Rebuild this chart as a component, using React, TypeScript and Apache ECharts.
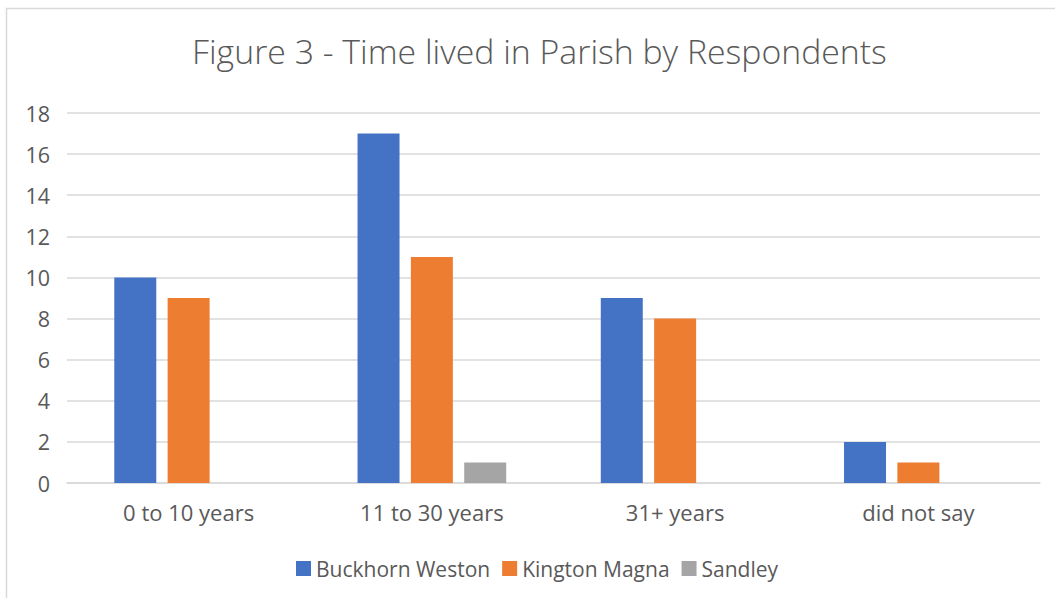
import React, { useEffect, useRef } from "react";
import * as echarts from "echarts";

const categories = ["0 to 10 years", "11 to 30 years", "31+ years", "did not say"];
const buckhornWeston = [10, 17, 9, 2];
const kingtonMagna = [9, 11, 8, 1];
const sandley = [0, 1, 0, 0];
const seriesNames = ["Buckhorn Weston", "Kington Magna", "Sandley"];
const colors = ["#4472C4", "#ED7D31", "#A5A5A5"];

const FONT = "Open Sans";
const TEXT = "#595959";

export default function App() {
  const ref = useRef<HTMLDivElement>(null);
  useEffect(() => {
    document.body.style.margin = "0";
    const chart = echarts.init(ref.current!, undefined, { renderer: "svg" });
    const data = [buckhornWeston, kingtonMagna, sandley];
    chart.setOption({
      animation: false,
      backgroundColor: "#ffffff",
      textStyle: { fontFamily: FONT },
      title: {
        text: "Figure 3 - Time lived in Parish by Respondents",
        left: 187,
        top: 29,
        textStyle: { fontFamily: FONT, fontSize: 33.8, fontWeight: 300, color: TEXT },
      },
      graphic: [
        {
          type: "rect",
          shape: { x: 6.5, y: 8.5, width: 1100, height: 700 },
          style: { fill: "none", stroke: "#D9D9D9", lineWidth: 1.5 },
          silent: true,
        },
      ],
      legend: {
        data: seriesNames,
        bottom: 14,
        left: 291,
        itemWidth: 15,
        itemHeight: 15,
        itemGap: 12,
        icon: "rect",
        textStyle: { fontFamily: FONT, fontSize: 21, color: TEXT },
      },
      grid: { left: 67, right: 15, top: 113, bottom: 115, containLabel: false },
      xAxis: {
        type: "category",
        data: categories,
        axisLine: { show: true, lineStyle: { color: "#D9D9D9", width: 1.5 } },
        axisTick: { show: false },
        axisLabel: { fontFamily: FONT, fontSize: 22, color: TEXT, margin: 18 },
      },
      yAxis: {
        type: "value",
        min: 0,
        max: 18,
        interval: 2,
        axisLine: { show: false },
        axisTick: { show: false },
        axisLabel: { fontFamily: FONT, fontSize: 21.5, color: TEXT, margin: 17 },
        splitLine: { lineStyle: { color: "#D9D9D9", width: 1.5 } },
      },
      series: seriesNames.map((name, i) => ({
        name,
        type: "bar",
        data: data[i],
        itemStyle: { color: colors[i] },
        barWidth: 42,
        barGap: "27%",
      })),
    });
    return () => chart.dispose();
  }, []);
  return <div ref={ref} style={{ width: 1055, height: 598 }} />;
}
